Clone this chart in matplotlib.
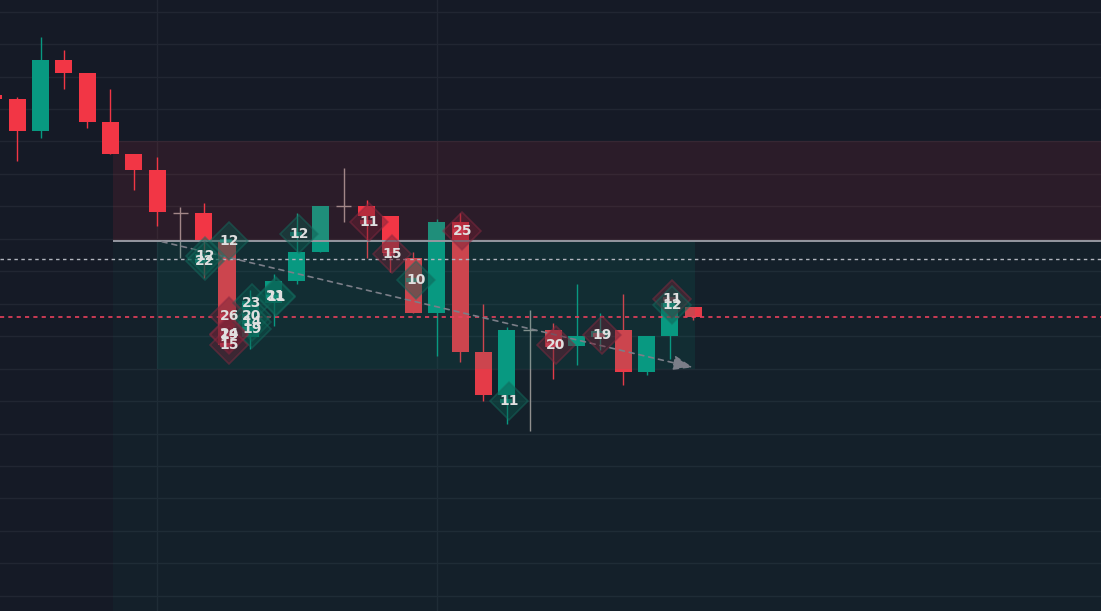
import matplotlib
matplotlib.use("Agg")
import matplotlib.pyplot as plt
import numpy as np

# candles (index, open, high, low, close)
idx = list(range(-1, 30))
opens = [1874.3, 1873.1, 1863.2, 1885.1, 1881.1, 1866.0, 1856.1, 1851.2, 1838.0, 1838.0,
         1829.3, 1799.7, 1810.2, 1817.0, 1825.9, 1840.1, 1840.1, 1837.0, 1824.1, 1807.1,
         1835.2, 1795.1, 1781.9, 1801.9, 1801.9, 1797.0, 1799.7, 1801.9, 1789.0, 1800.1, 1809.0]
highs = [1874.3, 1873.7, 1892.2, 1888.2, 1881.1, 1876.2, 1856.1, 1855.2, 1839.8, 1841.0,
         1829.3, 1814.2, 1819.2, 1838.0, 1840.1, 1851.8, 1842.0, 1837.0, 1825.9, 1836.1,
         1838.0, 1809.9, 1802.8, 1808.1, 1804.0, 1816.1, 1807.1, 1813.0, 1800.1, 1810.2, 1809.0]
lows = [1873.1, 1854.0, 1861.1, 1876.2, 1864.2, 1856.1, 1845.1, 1834.0, 1824.1, 1817.9,
        1796.0, 1796.1, 1803.1, 1816.1, 1825.9, 1835.2, 1824.1, 1819.8, 1807.1, 1793.9,
        1792.0, 1780.0, 1772.9, 1770.8, 1786.8, 1791.1, 1795.8, 1785.0, 1788.0, 1793.0, 1805.0]
closes = [1873.1, 1863.2, 1885.1, 1881.1, 1866.0, 1856.1, 1851.2, 1838.3, 1838.0, 1829.3,
          1797.3, 1810.2, 1817.0, 1825.9, 1840.1, 1840.1, 1837.0, 1825.6, 1807.1, 1835.2,
          1795.1, 1781.9, 1801.9, 1801.9, 1796.7, 1800.1, 1801.6, 1789.0, 1800.1, 1810.2, 1805.9]

# levels / zones
zone_start = 4.1
supply_top, supply_bottom = 1860.1, 1829.3
box_left, box_right, box_bottom = 6.0, 29.1, 1789.9
white_level = 1823.7
red_level = 1805.9
trend_start = (6.1, 1829.3)
trend_end = (29.1, 1790.2)
vgrid = [6, 18]

# trade markers
mark_x = [9.1, 8.05, 8.05, 12.1, 15.1, 16.08, 17.1, 19.1, 10.07, 11.1, 11.1,
          9.1, 10.07, 10.07, 10.07, 9.1, 9.1, 9.1, 23.1, 25.1, 28.1, 28.1, 21.1]
mark_y = [1829.3, 1824.7, 1823.2, 1831.5, 1835.2, 1825.3, 1817.3, 1832.3, 1810.2, 1812.4, 1812.1,
          1806.2, 1806.2, 1804.3, 1802.2, 1800.6, 1800.4, 1797.3, 1797.3, 1800.4, 1811.5, 1809.6, 1780.0]
mark_text = ["12", "12", "22", "12", "11", "15", "10", "25", "23", "21", "11",
             "26", "20", "14", "19", "24", "19", "15", "20", "19", "11", "12", "11"]
mark_side = ["b", "b", "b", "b", "s", "s", "b", "s", "b", "b", "b",
             "s", "b", "b", "b", "s", "s", "s", "s", "s", "s", "b", "b"]

bg = "#151a26"
up = "#089981"
down = "#f23645"
doji = "#9a9090"

fig = plt.figure(figsize=(11.01, 6.11), dpi=100)
fig.patch.set_facecolor(bg)
ax = fig.add_axes([0, 0, 1, 1])
ax.set_facecolor(bg)
ax.set_xlim(-0.74, 46.5)
ax.set_ylim(1715.3, 1903.6)
ax.set_axis_off()

for g in np.arange(1720, 1901, 10):
    ax.axhline(g, color="#212632", lw=1.0, zorder=0)
for v in vgrid:
    ax.axvline(v, color="#212632", lw=1.0, zorder=0)

# candles
for i, o, h, l, c in zip(idx, opens, highs, lows, closes):
    if abs(c - o) < 0.05:
        ax.vlines(i, l, h, color=doji, lw=1.0, zorder=2)
        ax.hlines(o, i - 0.32, i + 0.32, color=doji, lw=1.0, zorder=2)
        continue
    col = up if c > o else down
    ax.vlines(i, l, h, color=col, lw=1.0, zorder=2)
    ax.bar(i, c - o, bottom=o, width=0.73, color=col, lw=0, zorder=2)

# zones drawn over candles, semi transparent
ax.fill_between([zone_start, 50], supply_bottom, supply_top, color=down, alpha=0.1, lw=0, zorder=3)
ax.fill_between([zone_start, 50], 1700, supply_bottom, color=up, alpha=0.055, lw=0, zorder=3)
ax.fill_between([box_left, box_right], box_bottom, supply_bottom, color=up, alpha=0.11, lw=0, zorder=3)
ax.hlines(supply_bottom, zone_start, 50, color="#9598a1", lw=1.4, zorder=4)

ax.axhline(white_level, color="#b2b5be", lw=1.0, ls=(0, (2.5, 2.5)), zorder=4)
ax.axhline(red_level, color="#e8405c", lw=1.2, ls=(0, (2.5, 2.5)), zorder=4)

ax.annotate("", xy=trend_end, xytext=trend_start,
            arrowprops=dict(arrowstyle="-|>,head_length=1.2,head_width=0.45",
                            color="#7b7e88", lw=1.2, ls=(0, (3, 3))), zorder=4)

for x, y, t, s in zip(mark_x, mark_y, mark_text, mark_side):
    if s == "b":
        face, edge, bar = "#0b5a4e", "#147062", "#12a088"
    else:
        face, edge, bar = "#6e2034", "#8e2a42", "#e0405a"
    ax.plot(x, y, marker="D", ms=19, mfc=face, mec=edge, mew=1.2, alpha=0.45, zorder=5)
    ax.plot(x - 0.15, y, marker="_", ms=9, mec=bar, mew=3, alpha=0.5, zorder=5)
    ax.text(x, y, t, color="#e0e0e0", fontsize=10, fontweight="bold",
            ha="center", va="center", zorder=6)

fig.savefig("out.png", dpi=100, facecolor=bg)
